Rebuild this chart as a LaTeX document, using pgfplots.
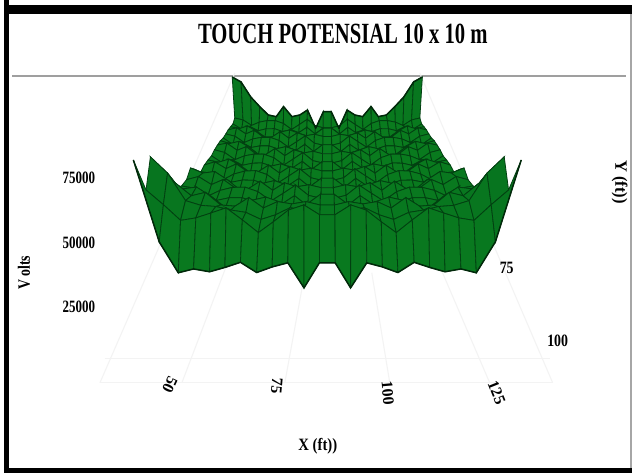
\documentclass[border=0pt]{standalone}
\usepackage{fontspec}
\setmainfont{Liberation Serif}
\usepackage{pgfplots}
\usepackage{pgfplotstable}
\pgfplotsset{compat=1.18}
\definecolor{surfgreen}{RGB}{10,124,30}
\definecolor{surfgreenb}{RGB}{6,114,32}
\definecolor{edgegreen}{RGB}{2,64,17}
\definecolor{rimgreen}{RGB}{1,40,10}
\definecolor{faint}{RGB}{243,243,243}
% Volts, 24 x 24 grid, back row first, front row last
\pgfplotstableread[row sep=\\]{
z\\
69500\\65600\\53900\\46400\\39800\\38500\\46400\\38500\\39800\\43700\\29400\\42400\\42400\\29400\\43700\\39800\\38500\\46400\\38500\\39800\\46400\\53900\\65600\\69500\\
40100\\38600\\34400\\36900\\38100\\38100\\35900\\31300\\35100\\39100\\34100\\32600\\32600\\34100\\39100\\35100\\31300\\35900\\38100\\38100\\36900\\34400\\38600\\40100\\
38300\\34300\\36400\\33200\\34700\\34800\\32600\\34000\\31800\\35800\\30800\\35300\\35300\\30800\\35800\\31800\\34000\\32600\\34800\\34700\\33200\\36400\\34300\\38300\\
39000\\37600\\39500\\36000\\31400\\31400\\35200\\36600\\34400\\32400\\33400\\37900\\37900\\33400\\32400\\34400\\36600\\35200\\31400\\31400\\36000\\39500\\37600\\39000\\
39600\\41000\\36700\\39200\\34400\\34400\\38200\\33600\\37400\\35400\\36400\\34900\\34900\\36400\\35400\\37400\\33600\\38200\\34400\\34400\\39200\\36700\\41000\\39600\\
39600\\38000\\33600\\36100\\37200\\37200\\35000\\30400\\34200\\38200\\33200\\31700\\31700\\33200\\38200\\34200\\30400\\35000\\37200\\37200\\36100\\33600\\38000\\39600\\
39800\\35200\\36800\\33300\\34400\\34400\\32200\\33600\\31400\\35400\\30400\\34900\\34900\\30400\\35400\\31400\\33600\\32200\\34400\\34400\\33300\\36800\\35200\\39800\\
40900\\39100\\40500\\36800\\31900\\31800\\35600\\37000\\34800\\32800\\33800\\38300\\38300\\33800\\32800\\34800\\37000\\35600\\31800\\31900\\36800\\40500\\39100\\40900\\
41200\\42400\\37800\\40100\\35200\\35100\\38900\\34300\\38100\\36100\\37100\\35600\\35600\\37100\\36100\\38100\\34300\\38900\\35100\\35200\\40100\\37800\\42400\\41200\\
41300\\39600\\35100\\37500\\38600\\38500\\36300\\31700\\35500\\39500\\34500\\33000\\33000\\34500\\39500\\35500\\31700\\36300\\38500\\38600\\37500\\35100\\39600\\41300\\
40800\\36500\\38400\\35000\\36300\\36400\\34200\\35600\\33400\\37400\\32400\\36900\\36900\\32400\\37400\\33400\\35600\\34200\\36400\\36300\\35000\\38400\\36500\\40800\\
41600\\40300\\42100\\38700\\34000\\34100\\37900\\39300\\37100\\35100\\36100\\40600\\40600\\36100\\35100\\37100\\39300\\37900\\34100\\34000\\38700\\42100\\40300\\41600\\
42100\\43900\\40000\\42700\\38100\\38200\\42000\\37400\\41200\\39200\\40200\\38700\\38700\\40200\\39200\\41200\\37400\\42000\\38200\\38100\\42700\\40000\\43900\\42100\\
41700\\41000\\37400\\40500\\42100\\42400\\40200\\35600\\39400\\43400\\38400\\36900\\36900\\38400\\43400\\39400\\35600\\40200\\42400\\42100\\40500\\37400\\41000\\41700\\
46400\\41700\\43300\\39600\\40800\\40700\\38500\\39900\\37700\\41700\\36700\\41200\\41200\\36700\\41700\\37700\\39900\\38500\\40700\\40800\\39600\\43300\\41700\\46400\\
50900\\48200\\49000\\44700\\39400\\39000\\42800\\44200\\42000\\40000\\41000\\45500\\45500\\41000\\40000\\42000\\44200\\42800\\39000\\39400\\44700\\49000\\48200\\50900\\
48400\\50000\\45900\\48500\\43800\\43800\\47600\\43000\\46800\\44800\\45800\\44300\\44300\\45800\\44800\\46800\\43000\\47600\\43800\\43800\\48500\\45900\\50000\\48400\\
49000\\47900\\44000\\46800\\48300\\48400\\46200\\41600\\45400\\49400\\44400\\42900\\42900\\44400\\49400\\45400\\41600\\46200\\48400\\48300\\46800\\44000\\47900\\49000\\
52000\\47600\\49400\\45900\\47200\\47200\\45000\\46400\\44200\\48200\\43200\\47700\\47700\\43200\\48200\\44200\\46400\\45000\\47200\\47200\\45900\\49400\\47600\\52000\\
57800\\55300\\56100\\51900\\46700\\46300\\50100\\51500\\49300\\47300\\48300\\52800\\52800\\48300\\47300\\49300\\51500\\50100\\46300\\46700\\51900\\56100\\55300\\57800\\
61700\\61600\\56100\\57600\\52000\\51500\\55300\\50700\\53500\\52500\\53500\\52000\\52000\\53500\\52500\\53500\\50700\\55300\\51500\\52000\\57600\\56100\\61600\\61700\\
76600\\69700\\58000\\56000\\55500\\54000\\53000\\50000\\52000\\55000\\54000\\50000\\50000\\54000\\55000\\52000\\50000\\53000\\54000\\55500\\56000\\58000\\69700\\76600\\
66400\\60400\\54000\\55000\\57000\\59100\\54200\\49000\\53400\\58200\\60300\\56300\\56300\\60300\\58200\\53400\\49000\\54200\\59100\\57000\\55000\\54000\\60400\\66400\\
82000\\50000\\37900\\39400\\38300\\40000\\42000\\38000\\40200\\41800\\32000\\41800\\41800\\32000\\41800\\40200\\38000\\42000\\40000\\38300\\39400\\37900\\50000\\82000\\
}\surfacedata
\newcommand{\rowj}{floor((\coordindex+0.5)/24)}
\newcommand{\coli}{(\coordindex-24*\rowj)}
\newcommand{\persp}{(1/(1+(23-\rowj)/23))}
\pgfplotsset{table/projected/.style={
    x index=0,y index=0,z index=0,
    x expr={327.5+(\coli-11.5)*15.7*\persp*(1+0.0017*(\thisrow{z}/1000-38))},
    y expr={473-(-38+(408-2.56*\thisrow{z}/1000)*\persp)}}}
\begin{document}
\begin{tikzpicture}[x=1pt,y=1pt]
\begin{axis}[
  at={(0,0)},anchor=south west,
  scale only axis,width=474pt,height=354.75pt,
  view={0}{90},
  xmin=0,xmax=632,ymin=0,ymax=473,zmin=0,zmax=100000,
  hide axis,clip=false,
  colormap={greens}{color=(surfgreen) color=(surfgreenb)},
]
% page
\fill[white] (axis cs:0,0) rectangle (axis cs:632,473);
% frame
\fill[black] (axis cs:4,0) rectangle (axis cs:9,473);
\fill[black] (axis cs:4,459) rectangle (axis cs:632,468);
\fill[black] (axis cs:4,0) rectangle (axis cs:632,5);
\fill[gray!70] (axis cs:630,5) rectangle (axis cs:632,459);
\fill[gray!75] (axis cs:12,396) rectangle (axis cs:626,398);
% faint floor and wall grid
\addplot3[faint,line width=0.8pt,forget plot] coordinates {(100,90,0) (553,90,0)};
\addplot3[faint,line width=0.8pt,forget plot] coordinates {(105,114,0) (550,114,0)};
\addplot3[faint,line width=0.8pt,forget plot] coordinates {(100,90,0) (235,400,0)};
\addplot3[faint,line width=0.8pt,forget plot] coordinates {(182,90,0) (262,300,0)};
\addplot3[faint,line width=0.8pt,forget plot] coordinates {(285,90,0) (305,200,0)};
\addplot3[faint,line width=0.8pt,forget plot] coordinates {(390,90,0) (372,200,0)};
\addplot3[faint,line width=0.8pt,forget plot] coordinates {(490,90,0) (400,300,0)};
\addplot3[faint,line width=0.8pt,forget plot] coordinates {(553,90,0) (420,400,0)};
% surface
\addplot3[surf,shader=faceted,faceted color=edgegreen,line width=0.6pt,
  mesh/rows=24,mesh/cols=24,mesh/ordering=x varies,z buffer=none,point meta=\thisrow{z}]
  table[projected]{\surfacedata};
% darker rim
\addplot3[rimgreen,line width=1.1pt,line join=round,forget plot,unbounded coords=discard,
  restrict expr to domain={\coordindex}{552:575}] table[projected]{\surfacedata};
\addplot3[rimgreen,line width=1.1pt,line join=round,forget plot,unbounded coords=discard,
  restrict expr to domain={\coordindex}{0:23}] table[projected]{\surfacedata};
\addplot3[rimgreen,line width=1.1pt,line join=round,forget plot,unbounded coords=discard,
  restrict expr to domain={\coli}{-0.1:0.1}] table[projected]{\surfacedata};
\addplot3[rimgreen,line width=1.1pt,line join=round,forget plot,unbounded coords=discard,
  restrict expr to domain={\coli}{22.9:23.1}] table[projected]{\surfacedata};
% texts
\node[font=\fontsize{22}{22}\selectfont\bfseries,xscale=.705] at (axis cs:343,439) {TOUCH POTENSIAL 10 x 10 m};
\node[font=\fontsize{13}{13}\selectfont\bfseries,xscale=.75] at (axis cs:79,295) {75000};
\node[font=\fontsize{13}{13}\selectfont\bfseries,xscale=.75] at (axis cs:79,230) {50000};
\node[font=\fontsize{13}{13}\selectfont\bfseries,xscale=.75] at (axis cs:79,166) {25000};
\node[font=\fontsize{13}{13}\selectfont\bfseries,rotate=90,xscale=.8] at (axis cs:24,200) {V olts};
\node[font=\fontsize{13}{13}\selectfont\bfseries,rotate=-90,xscale=.95] at (axis cs:620,291) {Y (ft))};
\node[font=\fontsize{13}{13}\selectfont\bfseries,xscale=.8] at (axis cs:507,205) {75};
\node[font=\fontsize{13}{13}\selectfont\bfseries,xscale=.8] at (axis cs:558,132) {100};
\node[font=\fontsize{13}{13}\selectfont\bfseries,xscale=.85] at (axis cs:318,26) {X (ft))};
\node[font=\fontsize{12}{12}\selectfont\bfseries,rotate=-115] at (axis cs:170,88) {50};
\node[font=\fontsize{12}{12}\selectfont\bfseries,rotate=-95] at (axis cs:277,87) {75};
\node[font=\fontsize{12}{12}\selectfont\bfseries,rotate=-85] at (axis cs:388,80) {100};
\node[font=\fontsize{12}{12}\selectfont\bfseries,rotate=-68] at (axis cs:497,80) {125};
\end{axis}
\end{tikzpicture}
\end{document}
